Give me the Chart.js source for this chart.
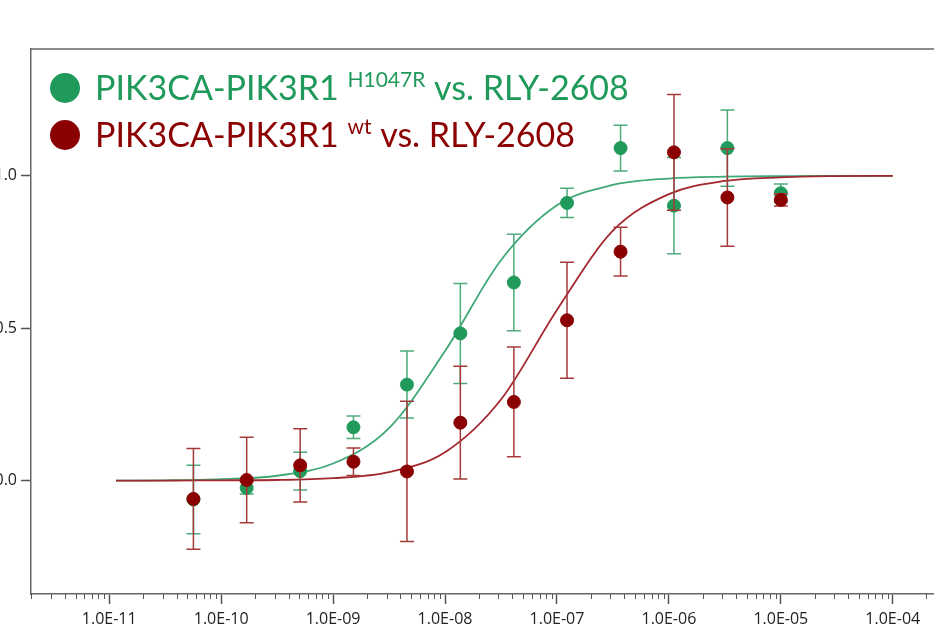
<!DOCTYPE html>
<html>
<head>
<meta charset="utf-8">
<script src="https://cdn.jsdelivr.net/npm/chart.js@4.4.0/dist/chart.umd.min.js"></script>
<style>
html, body { margin: 0; padding: 0; background: #fff; overflow: hidden; }
#wrap { position: relative; width: 934px; height: 630px; overflow: hidden; }
#chart { position: absolute; left: -40px; top: 0; }
</style>
</head>
<body>
<div id="wrap"><canvas id="chart" width="1020" height="630"></canvas></div>
<script>
// concentrations (M), 3-fold dilution series
const conc = [5.65e-11, 1.69e-10, 5.08e-10, 1.52e-9, 4.57e-9, 1.37e-8, 4.12e-8, 1.23e-7, 3.70e-7, 1.11e-6, 3.33e-6, 1.0e-5]

// PIK3CA-PIK3R1 H1047R
const mutMean = [-0.062, -0.024, 0.031, 0.175, 0.315, 0.483, 0.65, 0.911, 1.091, 0.902, 1.091, 0.943]
const mutErr = [0.112, 0.02, 0.062, 0.037, 0.11, 0.164, 0.158, 0.048, 0.075, 0.158, 0.125, 0.03]

// PIK3CA-PIK3R1 wt
const wtMean = [-0.06, 0.002, 0.05, 0.062, 0.03, 0.19, 0.258, 0.526, 0.751, 1.077, 0.929, 0.921]
const wtErr = [0.165, 0.14, 0.12, 0.045, 0.23, 0.185, 0.18, 0.19, 0.08, 0.19, 0.16, 0.02]

// fitted curves, read at half decades
const curveX = [1.15e-11, 3.16e-11, 1e-10, 3.16e-10, 1e-9, 3.16e-9, 1e-8, 3.16e-8, 1e-7, 3.16e-7, 1e-6, 3.16e-6, 1e-5, 3.16e-5, 1e-4]
const mutCurve = [0.0, 0.001, 0.005, 0.016, 0.056, 0.172, 0.425, 0.723, 0.903, 0.970, 0.991, 0.997, 0.999, 1.0, 1.0]
const wtCurve = [0.0, 0.0, 0.001, 0.002, 0.008, 0.028, 0.093, 0.266, 0.56, 0.82, 0.94, 0.983, 0.995, 0.999, 1.0]

// axis ticks
const xDecades = [1e-11, 1e-10, 1e-9, 1e-8, 1e-7, 1e-6, 1e-5, 1e-4]
const xTickLabels = ["1.0E-11", "1.0E-10", "1.0E-09", "1.0E-08", "1.0E-07", "1.0E-06", "1.0E-05", "1.0E-04"]
const yTicks = [0, 0.5, 1.0]
const yTickLabels = ["0.0", "0.5", "1.0"]

const GREEN = "#1f9a5a"
const RED = "#8b0000"

function points(xs, ys){
    return xs.map((x, i) => ({x: x, y: ys[i]}))
}

const errorBars = {
    id: "errorBars",
    beforeDatasetDraw(chart, args){
        const ds = chart.data.datasets[args.index]
        if(!ds.errors) return
        const ctx = chart.ctx
        const xs = chart.scales.x
        const ys = chart.scales.y
        ctx.save()
        ctx.strokeStyle = ds.errorColor
        ctx.lineWidth = 1.5
        ds.data.forEach((p, i) => {
            const px = xs.getPixelForValue(p.x)
            const top = ys.getPixelForValue(p.y + ds.errors[i])
            const bot = ys.getPixelForValue(p.y - ds.errors[i])
            ctx.beginPath()
            ctx.moveTo(px, top)
            ctx.lineTo(px, bot)
            ctx.moveTo(px - 7, top)
            ctx.lineTo(px + 7, top)
            ctx.moveTo(px - 7, bot)
            ctx.lineTo(px + 7, bot)
            ctx.stroke()
        })
        ctx.restore()
    }
}

const frame = {
    id: "frame",
    afterDraw(chart){
        const ctx = chart.ctx
        const a = chart.chartArea
        const xs = chart.scales.x
        ctx.save()
        ctx.strokeStyle = "#666"
        ctx.lineWidth = 1.5
        ctx.beginPath()
        ctx.moveTo(a.left, a.top)
        ctx.lineTo(a.right, a.top)
        ctx.lineTo(a.right, a.bottom)
        ctx.stroke()
        // minor ticks on the log axis
        ctx.lineWidth = 1
        ctx.strokeStyle = "#555"
        xs.ticks.forEach(t => {
            if(t.major) return
            const px = Math.round(xs.getPixelForValue(t.value)) + 0.5
            ctx.beginPath()
            ctx.moveTo(px, a.bottom)
            ctx.lineTo(px, a.bottom + 5)
            ctx.stroke()
        })
        ctx.restore()
    }
}

const legendRows = [
    {color: GREEN, name: "PIK3CA-PIK3R1", sup: "H1047R", rest: "vs. RLY-2608", y: 88},
    {color: RED, name: "PIK3CA-PIK3R1", sup: "wt", rest: "vs. RLY-2608", y: 135}
]

const legendPlugin = {
    id: "customLegend",
    afterDraw(chart){
        const ctx = chart.ctx
        const off = 40
        ctx.save()
        legendRows.forEach(r => {
            ctx.fillStyle = r.color
            ctx.beginPath()
            ctx.arc(65 + off, r.y, 15, 0, Math.PI * 2)
            ctx.fill()
            const base = r.y + 11.5
            let x = 95 + off
            ctx.textBaseline = "alphabetic"
            ctx.font = "34px Lato"
            ctx.fillText(r.name, x, base)
            x += ctx.measureText(r.name + " ").width
            ctx.font = "21px Lato"
            ctx.fillText(r.sup, x, base - 13)
            x += ctx.measureText(r.sup).width
            ctx.font = "34px Lato"
            x += ctx.measureText(" ").width
            ctx.fillText(r.rest, x, base)
        })
        ctx.restore()
    }
}

const config = {
    type: "scatter",
    data: {
        datasets: [
            {
                label: "PIK3CA-PIK3R1 wt vs. RLY-2608",
                data: points(conc, wtMean),
                errors: wtErr,
                errorColor: "#a53a3a",
                backgroundColor: RED,
                borderColor: RED,
                pointRadius: 6.5,
                order: 0
            },
            {
                label: "PIK3CA-PIK3R1 H1047R vs. RLY-2608",
                data: points(conc, mutMean),
                errors: mutErr,
                errorColor: "#4dab7c",
                backgroundColor: GREEN,
                borderColor: GREEN,
                pointRadius: 6.5,
                order: 1
            },
            {
                label: "wt fit",
                data: points(curveX, wtCurve),
                showLine: true,
                cubicInterpolationMode: "monotone",
                borderColor: "#a3282e",
                borderWidth: 1.8,
                pointRadius: 0,
                order: 2
            },
            {
                label: "H1047R fit",
                data: points(curveX, mutCurve),
                showLine: true,
                cubicInterpolationMode: "monotone",
                borderColor: "#3fa877",
                borderWidth: 1.8,
                pointRadius: 0,
                order: 3
            }
        ]
    },
    options: {
        responsive: false,
        animation: false,
        devicePixelRatio: 1,
        layout: {padding: {top: 49, right: 9, bottom: 0, left: 0}},
        plugins: {
            legend: {display: false},
            tooltip: {enabled: false}
        },
        scales: {
            x: {
                type: "logarithmic",
                min: 2e-12,
                max: 5e-4,
                border: {color: "#666", width: 1.5},
                grid: {
                    drawOnChartArea: false,
                    tickLength: 10,
                    tickWidth: 1.5,
                    tickColor: c => (c.tick && c.tick.major) ? "#555" : "rgba(0,0,0,0)"
                },
                afterBuildTicks: scale => {
                    const ticks = []
                    for(let d = xDecades[0] / 10; d <= xDecades[xDecades.length - 1] * 1.01; d *= 10){
                        for(let m = 1; m < 10; m++){
                            const v = m * d
                            if(v < scale.min || v > scale.max) continue
                            ticks.push({value: v, major: m === 1 && xDecades.some(x => Math.abs(x / v - 1) < 1e-6)})
                        }
                    }
                    scale.ticks = ticks
                },
                afterFit: scale => { scale.height = 36 },
                ticks: {
                    autoSkip: false,
                    maxRotation: 0,
                    padding: 6,
                    color: "#222",
                    font: {family: "'Open Sans'", size: 16},
                    callback: function(value){
                        const i = xDecades.findIndex(x => Math.abs(x / value - 1) < 1e-6)
                        return i >= 0 ? xTickLabels[i] : ""
                    }
                }
            },
            y: {
                min: -0.372,
                max: 1.416,
                border: {color: "#666", width: 1.5},
                grid: {
                    drawOnChartArea: false,
                    tickLength: 10,
                    tickWidth: 1.5,
                    tickColor: "#555"
                },
                afterBuildTicks: scale => {
                    scale.ticks = yTicks.map(v => ({value: v}))
                },
                afterFit: scale => { scale.width = 71 },
                ticks: {
                    padding: 4,
                    color: "#222",
                    font: {family: "'Open Sans'", size: 16},
                    callback: function(value){
                        const i = yTicks.indexOf(value)
                        return i >= 0 ? yTickLabels[i] : ""
                    }
                }
            }
        }
    },
    plugins: [errorBars, frame, legendPlugin]
}

const chart = new Chart(document.getElementById("chart"), config)
</script>
</body>
</html>
